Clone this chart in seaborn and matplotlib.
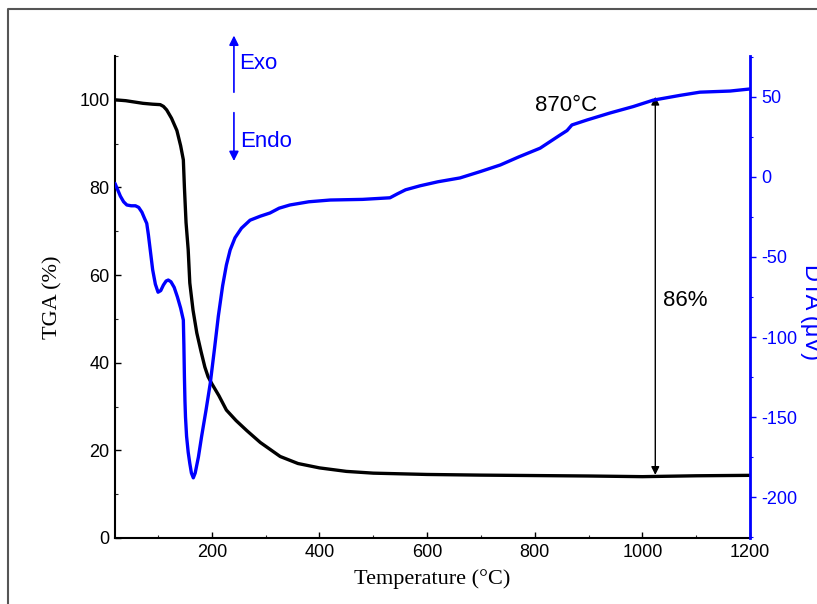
import numpy as np
import pandas as pd
import matplotlib
matplotlib.use("Agg")
import matplotlib.pyplot as plt
from matplotlib.lines import Line2D
from matplotlib.ticker import MultipleLocator
import seaborn as sns

# ---- data ----
tga_temp = [20, 40, 72, 90, 104, 110, 116, 125, 135, 142, 147, 149, 152, 156, 159, 165,
            172, 180, 187, 193, 200, 213, 227, 245, 265, 290, 327, 360, 400, 450, 500, 600,
            700, 800, 900, 1000, 1100, 1200]
tga_mass = [100, 99.8, 99.2, 99.0, 98.9, 98.5, 97.7, 95.8, 93, 89.5, 86.3, 80, 72, 65.8,
            58.2, 52, 46.8, 42.5, 39, 36.8, 35.2, 32.5, 29.2, 26.8, 24.5, 21.8, 18.6, 17,
            16, 15.2, 14.8, 14.5, 14.35, 14.25, 14.15, 14.0, 14.2, 14.3]

dta_temp = [20, 25, 30, 36, 42, 50, 58, 64, 70, 75, 79, 82, 86, 90, 95, 100, 105, 110, 115,
            119, 124, 130, 136, 142, 147, 148, 149, 150, 151, 153, 156, 159, 162, 165.5, 169,
            175, 181, 189, 197, 205, 212, 220, 227, 234, 243, 255, 271, 290, 308, 325, 345,
            380, 420, 480, 531, 545, 560, 587, 620, 661, 700, 736, 770, 810, 847, 860, 869,
            897, 940, 983, 1020, 1070, 1107, 1163, 1200]
dta_signal = [-4, -8, -12, -15.5, -17.5, -18, -18, -19, -22, -26, -29, -36, -47, -58, -67,
              -72, -71, -67.5, -65, -64.4, -65.5, -69, -75, -82, -89.4, -105, -125, -140,
              -150, -162, -172, -179, -185, -188, -185, -175, -162, -146, -129, -107, -87,
              -68, -55, -45.6, -38, -32, -27, -24.5, -22.5, -19.5, -17.5, -15.5, -14.4, -14,
              -13, -10.5, -8, -5.5, -3, -0.6, 3.5, 7.5, 12.5, 18, 26.2, 29, 32.5, 35.6, 40,
              44, 48, 51, 53, 53.7, 55]

tga_ticks = [0, 20, 40, 60, 80, 100]
dta_ticks = [-200, -150, -100, -50, 0, 50]
temp_ticks = [200, 400, 600, 800, 1000, 1200]

mass_loss_label = "86%"
peak_label = "870°C"

tga_df = pd.DataFrame({"Temperature": tga_temp, "TGA": tga_mass})
dta_df = pd.DataFrame({"Temperature": dta_temp, "DTA": dta_signal})

# ---- style ----
sns.set_theme(style="white")
plt.rcParams["font.family"] = ["Liberation Sans", "DejaVu Sans"]
plt.rcParams["axes.unicode_minus"] = False
serif = ["Liberation Serif", "DejaVu Serif"]
BLUE = "#0000FF"

fig = plt.figure(figsize=(8.17, 6.04), dpi=100)
ax = fig.add_axes([115 / 817, 1 - 538 / 604, (750 - 115) / 817, (538 - 56) / 604])
ax2 = ax.twinx()

sns.lineplot(data=tga_df, x="Temperature", y="TGA", ax=ax, color="black", lw=2.4,
             sort=False, estimator=None)
sns.lineplot(data=dta_df, x="Temperature", y="DTA", ax=ax2, color=BLUE, lw=2.4,
             sort=False, estimator=None)
for a in (ax, ax2):
    for ln in a.get_lines():
        ln.set_solid_joinstyle("round")
        ln.set_solid_capstyle("round")

ax.set_xlim(20, 1200)
ax.set_ylim(0, 110)
ax2.set_ylim(-225.6, 75.6)

ax.set_xticks(temp_ticks)
ax.set_yticks(tga_ticks)
ax2.set_yticks(dta_ticks)
ax.xaxis.set_minor_locator(MultipleLocator(100))
ax.yaxis.set_minor_locator(MultipleLocator(10))
ax2.yaxis.set_minor_locator(MultipleLocator(25))

ax.tick_params(axis="both", which="major", direction="in", length=4, width=1,
               labelsize=13, colors="black", pad=4)
ax.tick_params(axis="both", which="minor", direction="in", length=2.5, width=0.8)
ax.tick_params(axis="x", bottom=True, which="both")
ax.tick_params(axis="y", left=True, which="both")
ax2.tick_params(axis="y", which="major", direction="out", length=4, width=1,
                labelsize=13, colors=BLUE, right=True, pad=4)
ax2.tick_params(axis="y", which="minor", direction="out", length=2.5, width=0.8,
                colors=BLUE, right=True)

for a in (ax, ax2):
    a.spines["top"].set_visible(False)
ax.spines["right"].set_visible(False)
ax2.spines["left"].set_visible(False)
ax2.spines["bottom"].set_visible(False)
ax.spines["left"].set_color("black")
ax.spines["bottom"].set_color("black")
ax.spines["left"].set_linewidth(1.5)
ax.spines["bottom"].set_linewidth(1.5)
ax2.spines["right"].set_color(BLUE)
ax2.spines["right"].set_linewidth(2)

ax.set_xlabel("Temperature (°C)", family=serif, fontsize=16, color="black", labelpad=6)
ax.set_ylabel("TGA (%)", family=serif, fontsize=16, color="black", labelpad=12)
ax2.set_ylabel("")
fig.text(811 / 817, 1 - 312 / 604, "DTA (μV)", rotation=270, color=BLUE, fontsize=17,
         ha="center", va="center")

# Exo / Endo arrows
ax.annotate("", xy=(241, 115.3), xytext=(241, 101.1), xycoords="data",
            arrowprops=dict(arrowstyle="-|>", color=BLUE, lw=1.2, mutation_scale=14),
            annotation_clip=False)
ax.annotate("", xy=(241, 85.4), xytext=(241, 97.7), xycoords="data",
            arrowprops=dict(arrowstyle="-|>", color=BLUE, lw=1.2, mutation_scale=14),
            annotation_clip=False)
ax.text(250, 108.4, "Exo", color=BLUE, fontsize=16, ha="left", va="center", clip_on=False)
ax.text(252, 90.4, "Endo", color=BLUE, fontsize=16, ha="left", va="center")

# mass loss double arrow
ax.annotate("", xy=(1024, 100.7), xytext=(1024, 14.4),
            arrowprops=dict(arrowstyle="<|-|>", color="black", lw=1, mutation_scale=12,
                            shrinkA=0, shrinkB=0))
ax.text(1038, 54.1, mass_loss_label, fontsize=16, ha="left", va="center", color="black")
ax.text(800, 98.6, peak_label, fontsize=16, ha="left", va="center", color="black")

# outer frame
fx = 8 / 817
fy = 1 - 9 / 604
fig.add_artist(Line2D([fx, fx, 1.0], [0.0, fy, fy], transform=fig.transFigure,
                      color="#555555", lw=1.5))

fig.savefig("out.png", dpi=100)
